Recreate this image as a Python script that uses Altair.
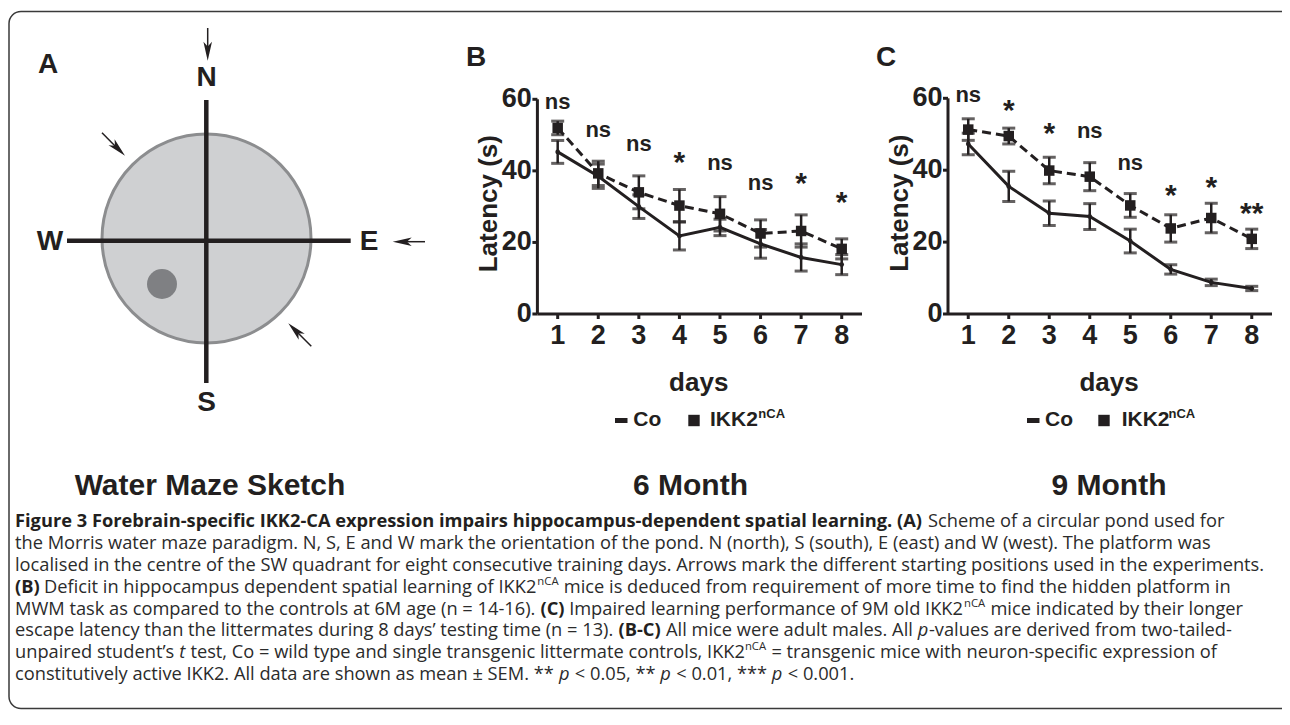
import altair as alt
import pandas as pd

# ---------------- data ----------------
days = [1, 2, 3, 4, 5, 6, 7, 8]
b_co_mean = [45.3, 38.5, 30.0, 21.8, 24.2, 19.6, 15.8, 13.8]
b_co_sem = [3.2, 3.4, 3.3, 3.9, 2.3, 4.0, 3.8, 2.8]
b_ikk_mean = [52.0, 39.3, 34.0, 30.3, 28.0, 22.5, 23.2, 18.2]
b_ikk_sem = [1.9, 3.4, 4.6, 4.5, 4.8, 3.8, 4.5, 2.8]
c_co_mean = [47.3, 35.5, 28.0, 27.1, 20.3, 12.4, 8.8, 7.1]
c_co_sem = [3.0, 4.2, 3.4, 3.6, 3.3, 1.3, 0.9, 0.6]
c_ikk_mean = [51.3, 49.5, 39.9, 38.2, 30.2, 23.8, 26.7, 20.9]
c_ikk_sem = [3.0, 2.2, 3.7, 3.9, 3.3, 3.8, 4.1, 2.7]
b_sig = ["ns", "ns", "ns", "*", "ns", "ns", "*", "*"]
b_sig_y = [59.3, 51.4, 47.5, 43.9, 42.2, 36.6, 38.0, 32.7]
c_sig = ["ns", "*", "*", "ns", "ns", "*", "*", "**"]
c_sig_y = [60.9, 58.1, 51.6, 51.0, 42.1, 34.5, 36.8, 29.5]
y_ticks = [0, 20, 40, 60]
x_domain = [0.5, 8.5]
y_domain = [0, 60]

W, H = 1274, 702
# panel B plot area (chart pixels) is the main view
L, T = 529.4, 91.3
BW, BH = 854 - L, 306 - T
INK = "#231f20"
FONT = "Liberation Sans"
CAP_FONT = "Open Sans"
dummy = pd.DataFrame({"k": [0]})


def P(x, y):
    # page pixel -> view pixel
    return x - 8 - L, y - 8 - T


def txt(text, x, y, size, weight="bold", align="center", baseline="middle",
        font=FONT, style="normal", angle=0, color=INK):
    cx, cy = P(x, y)
    return alt.Chart(dummy).mark_text(
        text=text, font=font, fontSize=size, fontWeight=weight, fontStyle=style,
        align=align, baseline=baseline, angle=angle, color=color
    ).encode(x=alt.value(cx), y=alt.value(cy))


def seg(x1, y1, x2, y2, width, color=INK):
    a, b = P(x1, y1)
    c, d = P(x2, y2)
    return alt.Chart(dummy).mark_rule(color=color, strokeWidth=width).encode(
        x=alt.value(a), y=alt.value(b), x2=alt.value(c), y2=alt.value(d))


HEAD = "M0,-1L0.45,1L0,0.5L-0.45,1Z"


def head(x, y, angle, size=361):
    cx, cy = P(x, y)
    return alt.Chart(dummy).mark_point(
        shape=HEAD, filled=True, color=INK, size=size, angle=angle, opacity=1
    ).encode(x=alt.value(cx), y=alt.value(cy))


def disc(x, y, diam, fill, stroke=None, sw=0):
    cx, cy = P(x, y)
    kw = dict(shape="circle", filled=True, fill=fill, size=diam * diam, opacity=1)
    if stroke:
        kw.update(stroke=stroke, strokeWidth=sw)
    else:
        kw.update(strokeWidth=0)
    return alt.Chart(dummy).mark_point(**kw).encode(x=alt.value(cx), y=alt.value(cy))


layers = []

# border
bx1, by1 = P(9, 11.5)
bx2, by2 = P(1300, H + 8 - 1.5)
layers.append(alt.Chart(dummy).mark_rect(
    fill="transparent", stroke="#3a3a3a", strokeWidth=1.5, cornerRadius=12
).encode(x=alt.value(bx1), y=alt.value(by1), x2=alt.value(bx2), y2=alt.value(by2)))

# ---------------- panel A (sketch) ----------------
layers.append(disc(206.5, 238.5, 209, "#cfd0d2", "#8c8d8f", 3))
layers.append(disc(162, 284, 30, "#7f8083"))
layers.append(seg(206.3, 100, 206.3, 383, 4.5))
layers.append(seg(67, 240.7, 350.7, 240.7, 4.5))
layers.append(txt("N", 206.5, 78, 28))
layers.append(txt("S", 206.5, 403, 28))
layers.append(txt("E", 369, 242, 28))
layers.append(txt("W", 50, 242, 28))
layers.append(seg(207.7, 28, 207.7, 52, 1.5))
layers.append(head(207.7, 51.2, 180))
layers.append(seg(425, 241.7, 401, 241.7, 1.5))
layers.append(head(402.2, 241.7, 270))
layers.append(seg(102, 132.7, 119, 150, 1.5))
layers.append(head(118.3, 149, 135))
layers.append(seg(311.3, 346.3, 294, 329, 1.5))
layers.append(head(295, 330, 315))

layers.append(txt("A", 48, 65, 28))
layers.append(txt("B", 476, 57.5, 28))
layers.append(txt("C", 886, 57.5, 28))
layers.append(txt("Water Maze Sketch", 210, 486, 30))
layers.append(txt("6 Month", 690.5, 486, 30))
layers.append(txt("9 Month", 1109, 486, 30))


def legend(dash_x, co_x, sq_x, ikk_x, sup_x):
    out = [seg(dash_x, 420.5, dash_x + 12.5, 420.5, 5),
           txt("Co", co_x, 419.5, 21, align="left")]
    cx, cy = P(sq_x, 420.5)
    out.append(alt.Chart(dummy).mark_point(shape="square", filled=True, color=INK,
                                           size=130, opacity=1).encode(
        x=alt.value(cx), y=alt.value(cy)))
    out.append(txt("IKK2", ikk_x, 419.5, 21, align="left"))
    out.append(txt("nCA", sup_x, 414, 13, align="left"))
    return out


layers += legend(615, 633.3, 694, 710, 758.3)
layers += legend(1027, 1045, 1104, 1121.7, 1168.5)


# ---------------- panels B and C ----------------
def panel(co_m, co_s, ik_m, ik_s, sig, sig_y, x0, x1, y0, y1):
    """x0..x1, y0 (value 0) .. y1 (value 60): view pixels of the panel's scale ranges."""
    rows = []
    for g, m, s in (("Co", co_m, co_s), ("IKK2", ik_m, ik_s)):
        for d, mm, ss in zip(days, m, s):
            rows.append(dict(group=g, day=d, mean=mm, lo=mm - ss, hi=mm + ss))
    df = pd.DataFrame(rows)
    sdf = pd.DataFrame({"day": days, "label": sig, "yv": sig_y})
    tdf = pd.DataFrame({"v": y_ticks})
    ddf = pd.DataFrame({"xa": [x_domain[0]], "xb": [x_domain[1]],
                        "ya": [y_domain[0]], "yb": [y_domain[1]]})
    xs = alt.Scale(domain=x_domain, range=[x0, x1], nice=False, zero=False)
    ys = alt.Scale(domain=y_domain, range=[y0, y1], nice=False, zero=False)

    def X(f):
        return alt.X(f, scale=xs, axis=None)

    def Y(f):
        return alt.Y(f, scale=ys, axis=None)

    base = alt.Chart(df)
    co = base.transform_filter(alt.datum.group == "Co")
    ik = base.transform_filter(alt.datum.group == "IKK2")
    parts = []
    # axis lines, ticks, labels, titles (through the panel's scales)
    parts.append(alt.Chart(ddf).mark_rule(color=INK, strokeWidth=3).encode(
        x=X("xa:Q"), x2="xb:Q", y=Y("ya:Q")))
    parts.append(alt.Chart(ddf).mark_rule(color=INK, strokeWidth=3).encode(
        x=X("xa:Q"), y=Y("ya:Q"), y2="yb:Q"))
    dchart = alt.Chart(pd.DataFrame({"day": days}))
    parts.append(dchart.mark_rule(color=INK, strokeWidth=3).encode(
        x=X("day:Q"), y=alt.value(y0), y2=alt.value(y0 + 5)))
    parts.append(dchart.mark_text(font=FONT, fontSize=27, fontWeight="bold", color=INK,
                                  baseline="alphabetic").encode(
        x=X("day:Q"), y=alt.value(y0 + 29.5), text=alt.Text("day:Q", format="d")))
    tchart = alt.Chart(tdf)
    parts.append(tchart.mark_rule(color=INK, strokeWidth=3).encode(
        y=Y("v:Q"), x=alt.value(x0 - 5), x2=alt.value(x0)))
    parts.append(tchart.mark_text(font=FONT, fontSize=27, fontWeight="bold", color=INK,
                                  align="right", baseline="middle").encode(
        y=Y("v:Q"), x=alt.value(x0 - 5.5), text=alt.Text("v:Q", format="d")))
    parts.append(alt.Chart(dummy).mark_text(
        text="Latency (s)", font=FONT, fontSize=26, fontWeight="bold", color=INK,
        angle=270, align="center", baseline="middle").encode(
        x=alt.value(x0 - 48), y=alt.value((y0 + y1) / 2 - 3)))
    parts.append(alt.Chart(dummy).mark_text(
        text="days", font=FONT, fontSize=26, fontWeight="bold", color=INK,
        align="center", baseline="middle").encode(
        x=alt.value((x0 + x1) / 2 - 1), y=alt.value(y0 + 69)))
    # data
    parts.append(co.mark_line(color=INK, strokeWidth=3).encode(x=X("day:Q"), y=Y("mean:Q")))
    parts.append(ik.mark_line(color=INK, strokeWidth=3, strokeDash=[9, 5]).encode(
        x=X("day:Q"), y=Y("mean:Q")))
    for sub in (co, ik):
        parts.append(sub.mark_rule(color=INK, strokeWidth=2.5).encode(
            x=X("day:Q"), y=Y("lo:Q"), y2="hi:Q"))
        parts.append(sub.mark_tick(orient="horizontal", color=INK, size=13, thickness=3).encode(
            x=X("day:Q"), y=Y("lo:Q")))
        parts.append(sub.mark_tick(orient="horizontal", color=INK, size=13, thickness=3).encode(
            x=X("day:Q"), y=Y("hi:Q")))
    parts.append(co.mark_point(shape="circle", filled=True, color=INK, size=22, opacity=1).encode(
        x=X("day:Q"), y=Y("mean:Q")))
    parts.append(ik.mark_point(shape="square", filled=True, color=INK, size=110, opacity=1).encode(
        x=X("day:Q"), y=Y("mean:Q")))
    sig_base = alt.Chart(sdf)
    parts.append(sig_base.transform_filter(alt.datum.label == "ns").mark_text(
        font=FONT, fontSize=22, fontWeight="bold", color=INK, baseline="middle").encode(
        x=X("day:Q"), y=Y("yv:Q"), text="label:N"))
    parts.append(sig_base.transform_filter(alt.datum.label != "ns").mark_text(
        font=FONT, fontSize=30, fontWeight="bold", color=INK, baseline="middle", dy=6).encode(
        x=X("day:Q"), y=Y("yv:Q"), text="label:N"))
    return alt.layer(*parts)


bx0, by0 = P(537.4, 314)
bx1_, by1_ = P(862, 99.3)
pb = panel(b_co_mean, b_co_sem, b_ikk_mean, b_ikk_sem, b_sig, b_sig_y, bx0, bx1_, by0, by1_)
cx0, cy0 = P(948, 314)
cx1, cy1 = P(1272, 98.3)
pc = panel(c_co_mean, c_co_sem, c_ikk_mean, c_ikk_sem, c_sig, c_sig_y, cx0, cx1, cy0, cy1)

# ---------------- caption ----------------
OS_W = {' ': 0.260, 'a': 0.556, 'b': 0.613, 'c': 0.480, 'd': 0.613, 'e': 0.561, 'f': 0.336,
        'g': 0.546, 'h': 0.614, 'i': 0.252, 'j': 0.252, 'k': 0.522, 'l': 0.252, 'm': 0.929,
        'n': 0.614, 'o': 0.600, 'p': 0.613, 'q': 0.613, 'r': 0.408, 's': 0.477, 't': 0.353,
        'u': 0.614, 'v': 0.500, 'w': 0.772, 'x': 0.524, 'y': 0.500, 'z': 0.462,
        'A': 0.633, 'B': 0.648, 'C': 0.631, 'D': 0.729, 'E': 0.556, 'F': 0.516, 'G': 0.728,
        'H': 0.738, 'I': 0.279, 'J': 0.267, 'K': 0.614, 'L': 0.519, 'M': 0.903, 'N': 0.754,
        'O': 0.779, 'P': 0.603, 'Q': 0.779, 'R': 0.624, 'S': 0.549, 'T': 0.553, 'U': 0.728,
        'V': 0.593, 'W': 0.925, 'X': 0.577, 'Y': 0.560, 'Z': 0.571,
        '.': 0.266, ',': 0.245, '(': 0.296, ')': 0.296, '-': 0.322, '=': 0.572, '<': 0.572,
        '\u00b1': 0.572, '*': 0.551, '\u2019': 0.180, ':': 0.266}


def em_width(t, bold=False):
    w = sum(OS_W.get(ch, 0.572) for ch in t)
    return w * (1.07 if bold else 1.0)


cap_y = [522, 544, 566, 588, 609.5, 631, 653, 675]
# (text, style, space before)
cap_lines = [
    [("Figure 3 Forebrain-specific IKK2-CA expression impairs hippocampus-dependent spatial learning. (A)", "bold", False),
     ("Scheme of a circular pond used for", "normal", True)],
    [("the Morris water maze paradigm. N, S, E and W mark the orientation of the pond. N (north), S (south), E (east) and W (west). The platform was", "normal", False)],
    [("localised in the centre of the SW quadrant for eight consecutive training days. Arrows mark the different starting positions used in the experiments.", "normal", False)],
    [("(B)", "bold", False),
     ("Deficit in hippocampus dependent spatial learning of IKK2", "normal", True),
     ("nCA", "sup", False),
     ("mice is deduced from requirement of more time to find the hidden platform in", "normal", True)],
    [("MWM task as compared to the controls at 6M age (n = 14-16).", "normal", False),
     ("(C)", "bold", True),
     ("Impaired learning performance of 9M old IKK2", "normal", True),
     ("nCA", "sup", False),
     ("mice indicated by their longer", "normal", True)],
    [("escape latency than the littermates during 8 days\u2019 testing time (n = 13).", "normal", False),
     ("(B-C)", "bold", True),
     ("All mice were adult males. All", "normal", True),
     ("p", "italic", True),
     ("-values are derived from two-tailed-", "normal", False)],
    [("unpaired student\u2019s", "normal", False),
     ("t", "italic", True),
     ("test, Co = wild type and single transgenic littermate controls, IKK2", "normal", True),
     ("nCA", "sup", False),
     ("= transgenic mice with neuron-specific expression of", "normal", True)],
    [("constitutively active IKK2. All data are shown as mean \u00b1 SEM. **", "normal", False),
     ("p", "italic", True),
     ("< 0.05, **", "normal", True),
     ("p", "italic", True),
     ("< 0.01, ***", "normal", True),
     ("p", "italic", True),
     ("< 0.001.", "normal", True)],
]
CAP_SIZE = round((1210 - 15) / em_width(cap_lines[1][0][0]), 2)
SUP_SIZE = CAP_SIZE * 0.62
CAP_COLOR = "#2b2b2b"
for yy, line in zip(cap_y, cap_lines):
    xx = 15.0
    for t, st, sp in line:
        size = SUP_SIZE if st == "sup" else CAP_SIZE
        if sp:
            xx += OS_W[' '] * CAP_SIZE
        if st == "bold":
            layers.append(txt(t, xx, yy, size, weight="bold", align="left", font=CAP_FONT, color=INK))
        elif st == "italic":
            layers.append(txt(t, xx, yy, size, weight="normal", style="italic", align="left", font=CAP_FONT, color=CAP_COLOR))
        elif st == "sup":
            layers.append(txt(t, xx + 0.5, yy - 6, size, weight="normal", align="left", font=CAP_FONT, color=CAP_COLOR))
        else:
            layers.append(txt(t, xx, yy, size, weight="normal", align="left", font=CAP_FONT, color=CAP_COLOR))
        xx += em_width(t, st == "bold") * size + (1 if st == "sup" else 0)

chart = alt.layer(*layers, pb, pc).resolve_scale(
    x="independent", y="independent"
).properties(
    width=BW, height=BH,
    padding={"left": L, "top": T, "right": W - L - BW, "bottom": H - T - BH},
    autosize=alt.AutoSizeParams(type="none")
).configure_view(stroke=None)

chart.save("out.html", embed_options={"renderer": "svg", "actions": False})
